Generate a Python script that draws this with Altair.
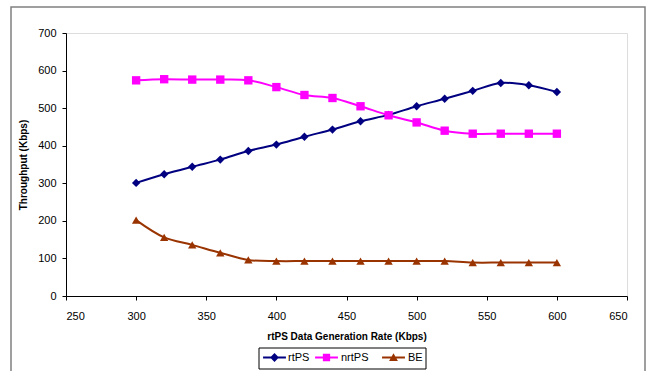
import altair as alt
import pandas as pd

rate = [300, 320, 340, 360, 380, 400, 420, 440, 460, 480, 500, 520, 540, 560, 580, 600]
rtps = [301, 324, 344, 363, 386, 403, 424, 443, 465, 482, 505, 525, 546, 567, 561, 543]
nrtps = [574, 577, 576, 576, 574, 556, 535, 527, 505, 481, 462, 440, 432, 432, 432, 432]
be = [202, 156, 136, 115, 96, 93, 93, 93, 93, 93, 93, 93, 89, 89, 89, 89]

series_names = ["rtPS", "nrtPS", "BE"]
series_colors = ["#000080", "#FF00FF", "#993300"]
series_shapes = ["diamond", "square", "triangle-up"]
# legend glyphs: short line segment with the series marker on it
legend_paths = [
    "M-2.2,-0.19L2.2,-0.19L2.2,0.19L-2.2,0.19ZM0,-0.85L0.85,0L0,0.85L-0.85,0Z",
    "M-2.2,-0.19L2.2,-0.19L2.2,0.19L-2.2,0.19ZM-0.7,-0.7L0.7,-0.7L0.7,0.7L-0.7,0.7Z",
    "M-2.2,-0.19L2.2,-0.19L2.2,0.19L-2.2,0.19ZM0,-0.8L0.85,0.65L-0.85,0.65Z",
]
legend_x = [203, 255, 322]
legend_label_offset = [8, 9, 9]

rows = []
for name, vals in zip(series_names, [rtps, nrtps, be]):
    for r, v in zip(rate, vals):
        rows.append({"Rate": r, "Throughput": v, "Series": name})
df = pd.DataFrame(rows)

font = "Liberation Sans"

x = alt.X("Rate:Q", scale=alt.Scale(domain=[250, 650], nice=False),
          axis=alt.Axis(title="rtPS Data Generation Rate (Kbps)", values=list(range(250, 651, 50)),
                        grid=False, titleFontSize=10, titleFontWeight="bold", titlePadding=10,
                        labelFontSize=11, domainColor="black", tickColor="black", tickSize=4,
                        labelPadding=10, labelColor="black", titleColor="black", labelOverlap=False))
y = alt.Y("Throughput:Q", scale=alt.Scale(domain=[0, 700], nice=False),
          axis=alt.Axis(title="Throughput (Kbps)", values=list(range(0, 701, 100)),
                        grid=False, titleFontSize=10, titleFontWeight="bold", titlePadding=9,
                        labelFontSize=11, domainColor="black", tickColor="black", tickSize=4,
                        labelPadding=6, labelColor="black", titleColor="black", labelOverlap=False))
color = alt.Color("Series:N", scale=alt.Scale(domain=series_names, range=series_colors), legend=None)

lines = alt.Chart(df).mark_line(strokeWidth=2, interpolate="catmull-rom").encode(
    x=x, y=y, color=color, detail="Series:N")
points = alt.Chart(df).mark_point(filled=True, opacity=1, size=70).encode(
    x=x, y=y, color=color,
    shape=alt.Shape("Series:N", scale=alt.Scale(domain=series_names, range=series_shapes), legend=None))

legend_layers = []
for i, (name, col, path) in enumerate(zip(series_names, series_colors, legend_paths)):
    key = f"k{i}"
    lg = alt.Legend(title=None, orient="none", legendX=legend_x[i], legendY=319,
                    padding=0, symbolType=path, symbolSize=108, symbolOpacity=1,
                    symbolStrokeWidth=0, symbolFillColor=col, symbolOffset=0,
                    labelOffset=legend_label_offset[i], labelFontSize=11, labelFont=font,
                    labelColor="black")
    legend_layers.append(
        alt.Chart(df).transform_filter(alt.datum.Series == name)
        .transform_calculate(**{key: "datum.Series"})
        .mark_point(filled=True, opacity=0, size=1, shape=path)
        .encode(x=x, y=y,
                color=alt.Color(f"{key}:N", scale=alt.Scale(domain=[name], range=[col]), legend=lg))
    )

one = pd.DataFrame({"a": [0]})
border = alt.Chart(one).mark_rect(fill=None, stroke="#808080", strokeWidth=1.5).encode(
    x=alt.value(-55), x2=alt.value(579), y=alt.value(-26), y2=alt.value(345))
legend_box = alt.Chart(one).mark_rect(fill=None, stroke="black", strokeWidth=1).encode(
    x=alt.value(193), x2=alt.value(360), y=alt.value(315), y2=alt.value(336))

chart = alt.layer(border, legend_box, lines, points, *legend_layers).resolve_scale(
    color="independent", shape="independent").properties(
    width=561, height=263, padding={"left": 66, "top": 33, "right": 19, "bottom": 75},
    autosize=alt.AutoSizeParams(type="none"), background="white"
).configure_view(stroke=None).configure(font=font)

chart.save("out.html", embed_options={"renderer": "svg", "actions": False})
